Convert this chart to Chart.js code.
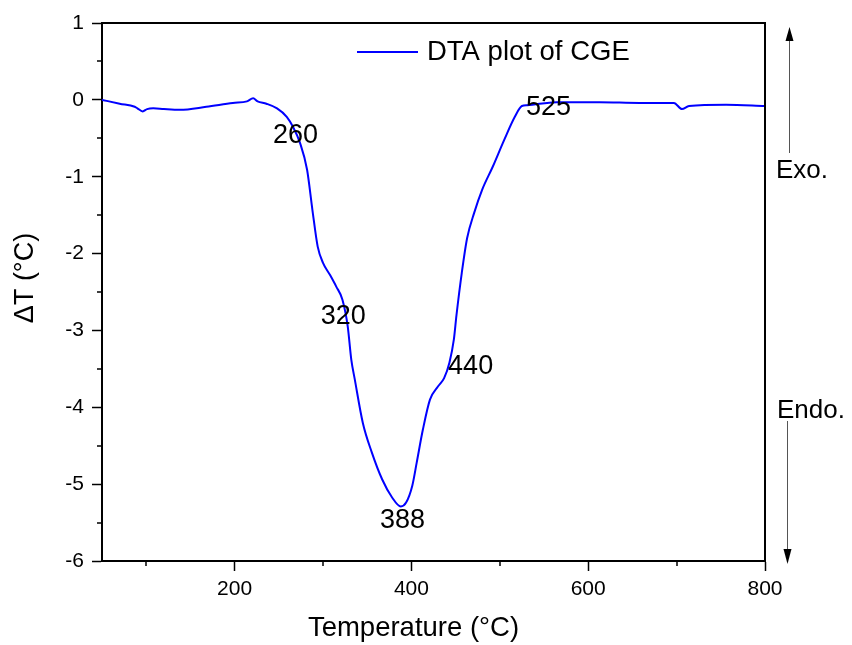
<!DOCTYPE html>
<html>
<head>
<meta charset="utf-8">
<script src="https://cdn.jsdelivr.net/npm/chart.js@4"></script>
<style>
  html, body { margin: 0; padding: 0; background: #ffffff; }
  #wrap { width: 852px; height: 645px; }
</style>
</head>
<body>
<div id="wrap"><canvas id="c" width="852" height="645"></canvas></div>
<script>
// ---- data ----
const temperature = [50, 70, 87, 90, 96, 101, 108, 120, 138, 168, 198, 214, 221, 226, 236, 248, 259, 266, 274, 282, 288, 294, 300, 308, 315, 322, 328, 332, 336, 345, 355, 367, 378, 388, 394, 401, 406, 413, 421, 430, 437, 443, 448, 451, 457, 463, 471, 480, 492, 505, 517, 525, 531, 564, 613, 658, 697, 706, 714, 756, 800];
const deltaT = [0, -0.05, -0.09, -0.11, -0.15, -0.12, -0.11, -0.12, -0.13, -0.09, -0.04, -0.02, 0.02, -0.02, -0.05, -0.11, -0.22, -0.35, -0.56, -0.91, -1.43, -1.91, -2.12, -2.28, -2.43, -2.60, -2.95, -3.38, -3.64, -4.20, -4.58, -4.94, -5.17, -5.29, -5.24, -5.02, -4.72, -4.29, -3.90, -3.73, -3.62, -3.42, -3.12, -2.80, -2.25, -1.80, -1.47, -1.17, -0.87, -0.52, -0.22, -0.08, -0.07, -0.03, -0.03, -0.04, -0.04, -0.12, -0.08, -0.065, -0.08];
const seriesName = 'DTA plot of CGE';
const xTickValues = [200, 400, 600, 800];
const xMinorTicks = [100, 300, 500, 700];
const yTickValues = [-6, -5, -4, -3, -2, -1, 0, 1];
const yMinorTicks = [-5.5, -4.5, -3.5, -2.5, -1.5, -0.5, 0.5];
const peakLabels = ['260', '320', '388', '440', '525'];
const peakLabelX = [269, 323, 390, 467, 555];
const peakLabelY = [-0.46, -2.82, -5.47, -3.47, -0.10];
const xTitle = 'Temperature (\u00B0C)';
const yTitle = '\u0394T (\u00B0C)';

const FONT = '"Liberation Sans", Arial, sans-serif';

const decor = {
  id: 'decor',
  afterDraw(chart) {
    const ctx = chart.ctx;
    const a = chart.chartArea;
    const xs = chart.scales.x, ys = chart.scales.y;
    ctx.save();
    // top & right frame
    ctx.strokeStyle = '#000';
    ctx.lineWidth = 2;
    ctx.beginPath();
    ctx.moveTo(a.left, a.top); ctx.lineTo(a.right, a.top); ctx.lineTo(a.right, a.bottom);
    ctx.stroke();
    // minor ticks
    ctx.lineWidth = 1.5;
    ctx.beginPath();
    xMinorTicks.forEach(v => { const p = Math.round(xs.getPixelForValue(v)); ctx.moveTo(p, a.bottom); ctx.lineTo(p, a.bottom + 5); });
    yMinorTicks.forEach(v => { const p = Math.round(ys.getPixelForValue(v)); ctx.moveTo(a.left, p); ctx.lineTo(a.left - 5, p); });
    ctx.stroke();
    // peak labels
    ctx.fillStyle = '#000';
    ctx.font = '27px ' + FONT;
    ctx.textAlign = 'center';
    ctx.textBaseline = 'middle';
    peakLabels.forEach((t, i) => {
      ctx.fillText(t, xs.getPixelForValue(peakLabelX[i]), ys.getPixelForValue(peakLabelY[i]));
    });
    // legend
    const ly = a.top + 29;
    ctx.strokeStyle = '#0000ff';
    ctx.lineWidth = 2;
    ctx.beginPath(); ctx.moveTo(357, ly); ctx.lineTo(418, ly); ctx.stroke();
    ctx.textAlign = 'left';
    ctx.font = '27.5px ' + FONT;
    ctx.fillText(seriesName, 427, ly);
    // axis titles
    ctx.textAlign = 'center';
    ctx.font = '27.5px ' + FONT;
    ctx.fillText(xTitle, (a.left + a.right) / 2 - 20, 628);
    ctx.font = '27px ' + FONT;
    ctx.save();
    ctx.translate(26, 278);
    ctx.rotate(-Math.PI / 2);
    ctx.fillText(yTitle, 0, 0);
    ctx.restore();
    // Exo / Endo arrows
    const ax1 = a.right + 24, ax2 = a.right + 22;
    ctx.strokeStyle = '#555';
    ctx.lineWidth = 1;
    ctx.beginPath(); ctx.moveTo(ax1 + 0.5, 153); ctx.lineTo(ax1 + 0.5, 40); ctx.stroke();
    ctx.beginPath(); ctx.moveTo(ax2 + 0.5, 421); ctx.lineTo(ax2 + 0.5, 550); ctx.stroke();
    ctx.fillStyle = '#000';
    ctx.beginPath(); ctx.moveTo(ax1 + 0.5, 27); ctx.lineTo(ax1 - 3.5, 41); ctx.lineTo(ax1 + 4.5, 41); ctx.closePath(); ctx.fill();
    ctx.beginPath(); ctx.moveTo(ax2 + 0.5, 564); ctx.lineTo(ax2 - 3.5, 549); ctx.lineTo(ax2 + 4.5, 549); ctx.closePath(); ctx.fill();
    ctx.textAlign = 'left';
    ctx.font = '26px ' + FONT;
    ctx.fillText('Exo.', a.right + 11, 171);
    ctx.fillText('Endo.', a.right + 12, 411);
    ctx.restore();
  }
};

new Chart(document.getElementById('c'), {
  type: 'line',
  data: {
    datasets: [{
      label: seriesName,
      data: temperature.map((t, i) => ({ x: t, y: deltaT[i] })),
      borderColor: '#0000ff',
      borderWidth: 2,
      pointRadius: 0,
      cubicInterpolationMode: 'monotone',
      fill: false
    }]
  },
  options: {
    responsive: false,
    animation: false,
    devicePixelRatio: 1,
    layout: { padding: { top: 23, right: 87, left: 0, bottom: 0 } },
    plugins: { legend: { display: false }, tooltip: { enabled: false } },
    scales: {
      x: {
        type: 'linear', min: 50, max: 800,
        afterBuildTicks: s => { s.ticks = xTickValues.map(v => ({ value: v })); },
        afterFit: s => { s.height = 84; },
        grid: { drawOnChartArea: false, drawTicks: true, tickLength: 10, tickColor: '#000', tickWidth: 1.5 },
        border: { display: true, color: '#000', width: 2 },
        ticks: { color: '#000', font: { family: FONT, size: 21 }, padding: 6, maxRotation: 0 }
      },
      y: {
        type: 'linear', min: -6, max: 1,
        afterBuildTicks: s => { s.ticks = yTickValues.map(v => ({ value: v })); },
        afterFit: s => { s.width = 102; },
        grid: { drawOnChartArea: false, drawTicks: true, tickLength: 10, tickColor: '#000', tickWidth: 1.5 },
        border: { display: true, color: '#000', width: 2 },
        ticks: { color: '#000', font: { family: FONT, size: 21 }, padding: 8 }
      }
    }
  },
  plugins: [decor]
});
</script>
</body>
</html>
